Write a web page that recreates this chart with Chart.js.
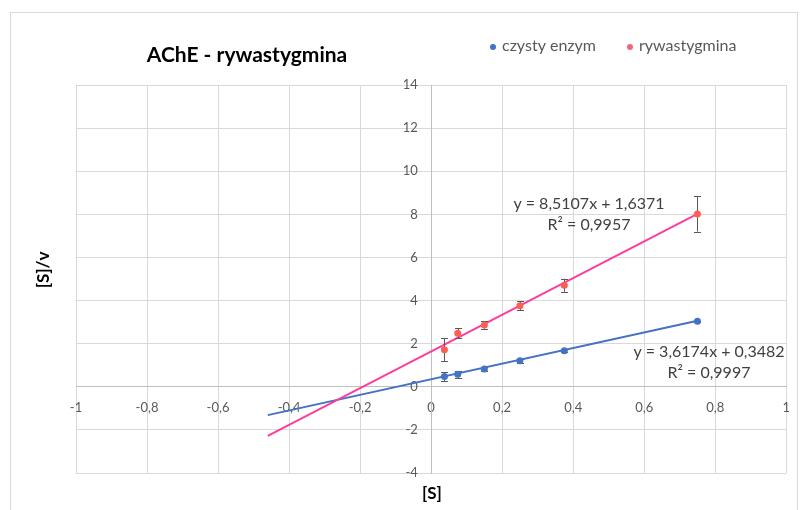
<!DOCTYPE html>
<html>
<head>
<meta charset="utf-8">
<script src="https://cdn.jsdelivr.net/npm/chart.js@4/dist/chart.umd.min.js"></script>
<style>
html,body{margin:0;padding:0;background:#fff;}
canvas{display:block;}
</style>
</head>
<body>
<canvas id="c" width="803" height="510"></canvas>
<script>
// ---- data ----
const concentrations = [0.0375, 0.075, 0.15, 0.25, 0.375, 0.75];
const pureEnzyme = [0.48, 0.58, 0.83, 1.21, 1.67, 3.04];
const pureEnzymeErr = [0.21, 0.15, 0.09, 0.09, 0.07, 0.03];
const rivastigmine = [1.72, 2.48, 2.87, 3.76, 4.71, 8.02];
const rivastigmineErr = [0.54, 0.24, 0.18, 0.22, 0.30, 0.82];
const seriesNames = ['czysty enzym', 'rywastygmina'];
const trendSlopes = [3.6174, 8.5107];
const trendIntercepts = [0.3482, 1.6371];
const trendR2 = ['0,9997', '0,9957'];
const trendFrom = -0.46, trendTo = 0.75;
const xTicks = {min: -1, max: 1, step: 0.2};
const yTicks = {min: -4, max: 14, step: 2};
const chartTitle = 'AChE - rywastygmina';
const xTitle = '[S]';
const yTitle = '[S]/v';

const BLUE = '#4472C4';
const PINK_MARK = '#FF5F52';
const PINK_LINE = '#FF3C9C';
const FONT = 'Lato, "Liberation Sans", sans-serif';

function fmt(v){
  const r = Math.round(v*10)/10;
  if (r === 0) return '0';
  return String(r).replace('.', ',');
}
function pts(ys){ return concentrations.map((x,i)=>({x:x, y:ys[i]})); }
function trend(i){
  return [trendFrom, trendTo].map(x=>({x:x, y: trendSlopes[i]*x + trendIntercepts[i]}));
}
const errs = [pureEnzymeErr, rivastigmineErr];

const errorBars = {
  id: 'errorBars',
  beforeDatasetDraw(chart, args){
    const i = args.index;
    if (i > 1) return;
    const ctx = chart.ctx, xs = chart.scales.x, ys = chart.scales.y;
    const data = chart.data.datasets[i].data;
    ctx.save();
    ctx.strokeStyle = '#595959';
    ctx.lineWidth = 1;
    data.forEach((p,k)=>{
      const e = errs[i][k];
      const px = Math.round(xs.getPixelForValue(p.x)) + 0.5;
      const y1 = ys.getPixelForValue(p.y + e), y2 = ys.getPixelForValue(p.y - e);
      ctx.beginPath();
      ctx.moveTo(px, y1); ctx.lineTo(px, y2);
      ctx.moveTo(px-3.5, Math.round(y1)+0.5); ctx.lineTo(px+3.5, Math.round(y1)+0.5);
      ctx.moveTo(px-3.5, Math.round(y2)+0.5); ctx.lineTo(px+3.5, Math.round(y2)+0.5);
      ctx.stroke();
    });
    ctx.restore();
  }
};

const decor = {
  id: 'decor',
  beforeDraw(chart){
    const ctx = chart.ctx;
    ctx.save();
    ctx.fillStyle = '#fff';
    ctx.fillRect(0,0,chart.width,chart.height);
    ctx.strokeStyle = '#D9D9D9';
    ctx.lineWidth = 1;
    ctx.strokeRect(10.5, 12.5, 787, 510);
    ctx.restore();
  },
  afterDraw(chart){
    const ctx = chart.ctx;
    ctx.save();
    // title
    ctx.fillStyle = '#000';
    ctx.font = 'bold 21px ' + FONT;
    ctx.textAlign = 'center';
    ctx.textBaseline = 'middle';
    ctx.fillText(chartTitle, 247, 55);
    // legend
    ctx.font = '16px ' + FONT;
    ctx.textAlign = 'left';
    const leg = [[493, BLUE], [630, '#F4657A']];
    leg.forEach((l,i)=>{
      ctx.fillStyle = l[1];
      ctx.beginPath(); ctx.arc(l[0], 47, 3, 0, Math.PI*2); ctx.fill();
      ctx.fillStyle = '#595959';
      ctx.fillText(seriesNames[i], l[0]+9, 46);
    });
    // axis titles
    ctx.fillStyle = '#000';
    ctx.font = 'bold 17px ' + FONT;
    ctx.textAlign = 'center';
    ctx.fillText(xTitle, 432, 494);
    ctx.save();
    ctx.translate(44, 270);
    ctx.rotate(-Math.PI/2);
    ctx.fillText(yTitle, 0, 0);
    ctx.restore();
    // trendline labels
    ctx.fillStyle = '#404040';
    ctx.font = '16px ' + FONT;
    const lab = [[709, 352], [589, 204]];
    lab.forEach((p,i)=>{
      const s = 'y = ' + String(trendSlopes[i]).replace('.', ',') + 'x + ' + String(trendIntercepts[i]).replace('.', ',');
      ctx.fillText(s, p[0], p[1]);
      ctx.fillText('R² = ' + trendR2[i], p[0], p[1] + 21);
    });
    ctx.restore();
  }
};

new Chart(document.getElementById('c'), {
  type: 'scatter',
  data: {
    datasets: [
      {label: seriesNames[0], data: pts(pureEnzyme), backgroundColor: BLUE, borderColor: BLUE, pointRadius: 3.5, pointBorderWidth: 0, showLine: false},
      {label: seriesNames[1], data: pts(rivastigmine), backgroundColor: PINK_MARK, borderColor: PINK_MARK, pointRadius: 3.5, pointBorderWidth: 0, showLine: false},
      {label: 'trend2', data: trend(1), showLine: true, borderColor: PINK_LINE, borderWidth: 2, pointRadius: 0, fill: false},
      {label: 'trend1', data: trend(0), showLine: true, borderColor: BLUE, borderWidth: 2, pointRadius: 0, fill: false}
    ]
  },
  options: {
    responsive: false,
    animation: false,
    events: [],
    layout: {padding: {left: 76, right: 11, top: 85, bottom: 37}},
    plugins: {legend: {display: false}, title: {display: false}, tooltip: {enabled: false}},
    scales: {
      x: {
        type: 'linear', min: xTicks.min, max: xTicks.max,
        position: {y: 0},
        grid: {color: '#D9D9D9', drawTicks: false, lineWidth: 1},
        border: {color: '#BFBFBF', width: 1},
        ticks: {stepSize: xTicks.step, autoSkip: false, maxRotation: 0, padding: 13, color: '#595959', font: {family: FONT, size: 13}, callback: v => fmt(v)}
      },
      y: {
        type: 'linear', min: yTicks.min, max: yTicks.max,
        position: {x: 0},
        grid: {color: '#D9D9D9', drawTicks: false, lineWidth: 1},
        border: {color: '#BFBFBF', width: 1},
        ticks: {stepSize: yTicks.step, autoSkip: false, color: '#595959', font: {family: FONT, size: 13}, callback: v => fmt(v) + '    '}
      }
    }
  },
  plugins: [decor, errorBars]
});
</script>
</body>
</html>
